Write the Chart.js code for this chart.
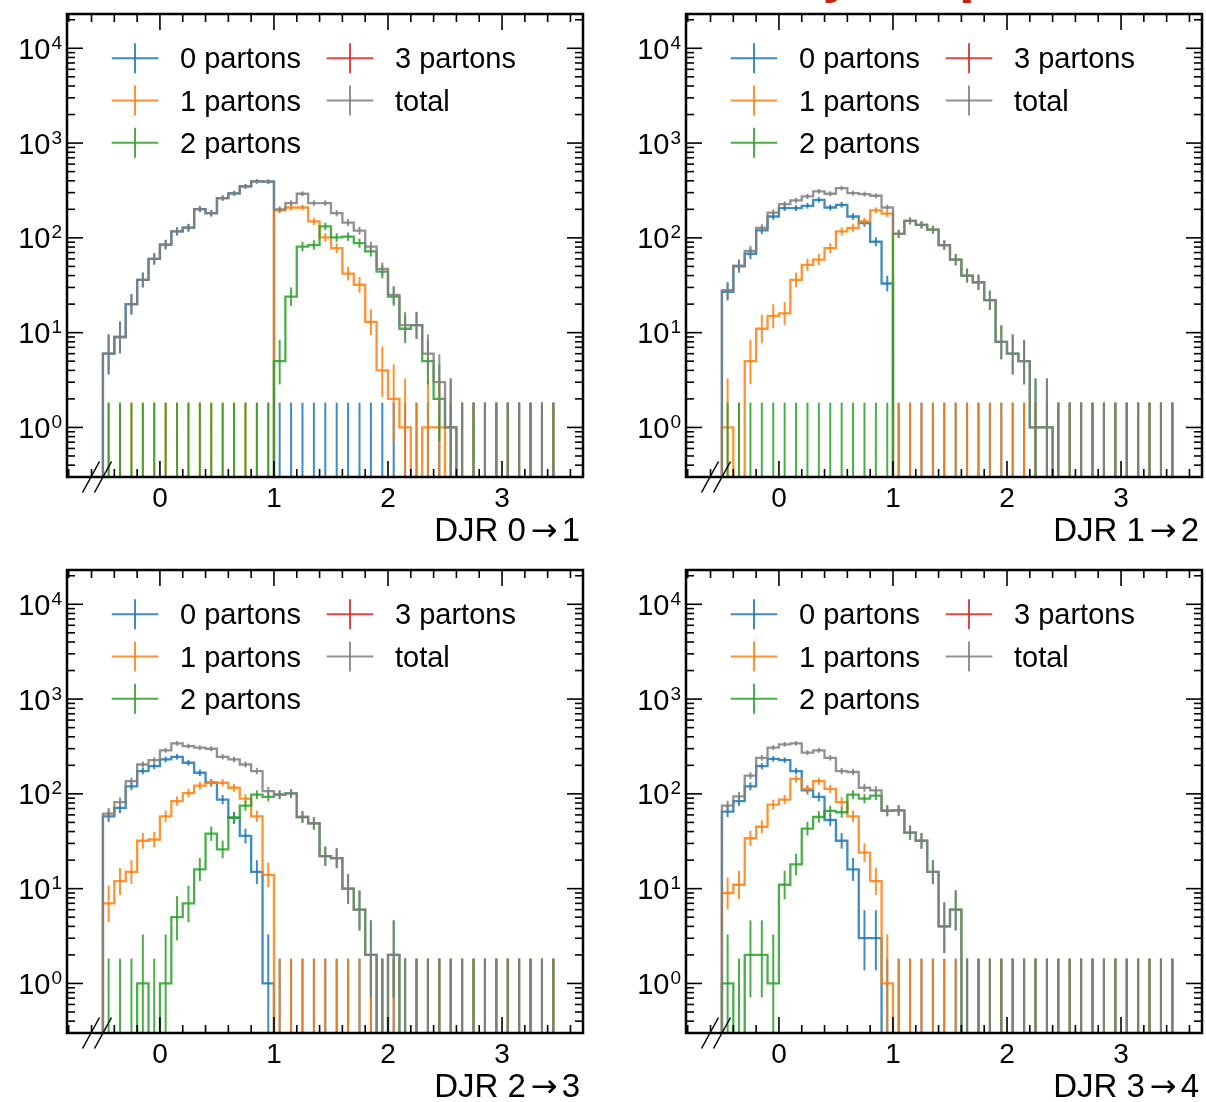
<!DOCTYPE html>
<html>
<head>
<meta charset="utf-8">
<script src="https://cdn.jsdelivr.net/npm/chart.js@4.4.1/dist/chart.umd.min.js"></script>
<style>
  body { margin: 0; background: #fff; width: 1206px; height: 1102px; overflow: hidden; position: relative; }
  .panel { position: absolute; width: 603px; height: 551px; }
  #suptitle {
    position: absolute; left: 738px; top: -58px; white-space: nowrap;
    font: bold 58px/58px "Liberation Sans", Arial, sans-serif; color: #c8200e;
  }
</style>
</head>
<body>
<div id="suptitle">W+jets, pT</div>
<div class="panel" style="left:0;top:0"><canvas id="djr01" width="603" height="551"></canvas></div>
<div class="panel" style="left:603px;top:0"><canvas id="djr12" width="603" height="551"></canvas></div>
<div class="panel" style="left:0;top:556px"><canvas id="djr23" width="603" height="551"></canvas></div>
<div class="panel" style="left:603px;top:556px"><canvas id="djr34" width="603" height="551"></canvas></div>
<script>
const FONT = '"Liberation Sans", Arial, sans-serif';
const ARROW_FONT = '"DejaVu Sans", sans-serif';

// bin edges, width 0.1
const binEdges = [
  -0.5, -0.4, -0.3, -0.2, -0.1, 0, 0.1, 0.2, 0.3, 0.4, 0.5, 0.6, 0.7, 0.8, 0.9,
  1.0, 1.1, 1.2, 1.3, 1.4, 1.5, 1.6, 1.7, 1.8, 1.9, 2.0, 2.1, 2.2, 2.3, 2.4,
  2.5, 2.6, 2.7, 2.8, 2.9, 3.0, 3.1, 3.2, 3.3, 3.4, 3.5,
];

const seriesLabels = ["0 partons", "1 partons", "2 partons", "3 partons", "total"];
const seriesColors = ["#1f77b4", "#ff7f0e", "#2ca02c", "#d62728", "#7f7f7f"];

const xMajorTicks = [0, 1, 2, 3];
const xTickLabels = ["0", "1", "2", "3"];
const xMinorTicks = [-0.8, -0.6, -0.4, -0.2, 0.2, 0.4, 0.6, 0.8, 1.2, 1.4, 1.6, 1.8,
  2.2, 2.4, 2.6, 2.8, 3.2, 3.4, 3.6];
const yMajorTicks = [1, 10, 100, 1000, 10000];
const yTickExponents = ["0", "1", "2", "3", "4"];

// ---- DJR 0->1 ----
const djr01Parton0 = [6, 9, 20, 36, 60, 85, 117, 128, 201, 182, 263, 295, 349, 394, 392,
  0, 0, 0, 0, 0, 0, 0, 0, 0, 0, 0, 0, 0, 0, 0, 0, 0, 0, 0, 0, 0, 0, 0, 0, 0];
const djr01Parton1 = [0, 0, 0, 0, 0, 0, 0, 0, 0, 0, 0, 0, 0, 0, 0,
  195, 209, 209, 149, 101, 78, 42, 32, 13, 4, 2, 1, 0, 1, 1,
  0, 0, 0, 0, 0, 0, 0, 0, 0, 0];
const djr01Parton2 = [0, 0, 0, 0, 0, 0, 0, 0, 0, 0, 0, 0, 0, 0, 0,
  5, 24, 81, 84, 132, 101, 103, 88, 72, 44, 24, 11, 12, 5, 2, 1,
  0, 0, 0, 0, 0, 0, 0, 0, 0];
const djr01Parton3 = [];
const djr01Total = [6, 9, 20, 36, 60, 85, 117, 128, 201, 182, 263, 295, 349, 394, 392,
  200, 233, 292, 233, 233, 182, 145, 119, 81, 47, 25, 12, 12, 6, 3, 1,
  0, 0, 0, 0, 0, 0, 0, 0, 0];

// ---- DJR 1->2 ----
const djr12Parton0 = [27, 50, 68, 120, 168, 206, 206, 218, 252, 209, 223, 168, 143, 91, 33,
  0, 0, 0, 0, 0, 0, 0, 0, 0, 0, 0, 0, 0, 0, 0, 0, 0, 0, 0, 0, 0, 0, 0, 0, 0];
const djr12Parton1 = [1, 0, 5, 11, 15, 16, 36, 52, 59, 78, 117, 127, 149, 195, 180,
  0, 0, 0, 0, 0, 0, 0, 0, 0, 0, 0, 0, 0, 0, 0, 0, 0, 0, 0, 0, 0, 0, 0, 0, 0];
const djr12Parton2 = [0, 0, 0, 0, 0, 0, 0, 0, 0, 0, 0, 0, 0, 0, 0,
  110, 151, 137, 122, 84, 59, 40, 34, 22, 8, 6, 5, 1, 1,
  0, 0, 0, 0, 0, 0, 0, 0, 0, 0, 0];
const djr12Parton3 = [];
const djr12Total = [28, 51, 73, 127, 185, 227, 248, 274, 309, 292, 335, 297, 290, 278, 209,
  110, 151, 137, 122, 84, 59, 40, 34, 22, 8, 6, 5, 1, 1,
  0, 0, 0, 0, 0, 0, 0, 0, 0, 0, 0];

// ---- DJR 2->3 ----
const djr23Parton0 = [58, 71, 120, 174, 196, 231, 246, 213, 167, 131, 87, 56, 36, 15, 1,
  0, 0, 0, 0, 0, 0, 0, 0, 0, 0, 0, 0, 0, 0, 0, 0, 0, 0, 0, 0, 0, 0, 0, 0, 0];
const djr23Parton1 = [7, 12, 15, 32, 33, 58, 84, 102, 122, 131, 131, 116, 89, 58, 14,
  0, 0, 0, 0, 0, 0, 0, 0, 0, 0, 0, 0, 0, 0, 0, 0, 0, 0, 0, 0, 0, 0, 0, 0, 0];
const djr23Parton2 = [0, 0, 0, 1, 0, 1, 5, 7, 16, 38, 26, 56, 75, 98, 93,
  98, 101, 57, 49, 22, 21, 10, 6, 2, 0, 2,
  0, 0, 0, 0, 0, 0, 0, 0, 0, 0, 0, 0, 0, 0];
const djr23Parton3 = [];
const djr23Total = [62, 82, 136, 204, 227, 288, 341, 319, 307, 299, 246, 231, 204, 174, 107,
  98, 101, 57, 49, 22, 21, 10, 6, 2, 0, 2,
  0, 0, 0, 0, 0, 0, 0, 0, 0, 0, 0, 0, 0, 0];

// ---- DJR 3->4 ----
const djr34Parton0 = [65, 84, 120, 196, 234, 227, 174, 109, 93, 53, 32, 16, 3, 3,
  0, 0, 0, 0, 0, 0, 0, 0, 0, 0, 0, 0, 0, 0, 0, 0, 0, 0, 0, 0, 0, 0, 0, 0, 0, 0];
const djr34Parton1 = [9, 11, 34, 45, 77, 87, 144, 113, 136, 113, 82, 58, 24, 12, 1,
  0, 0, 0, 0, 0, 0, 0, 0, 0, 0, 0, 0, 0, 0, 0, 0, 0, 0, 0, 0, 0, 0, 0, 0, 0];
const djr34Parton2 = [1, 0, 2, 2, 1, 11, 18, 43, 57, 66, 64, 98, 89, 96, 66, 67, 39, 32, 15, 4, 6,
  0, 0, 0, 0, 0, 0, 0, 0, 0, 0, 0, 0, 0, 0, 0, 0, 0, 0, 0];
const djr34Parton3 = [];
const djr34Total = [75, 94, 156, 240, 307, 333, 341, 272, 288, 240, 174, 170, 116, 109, 67, 67, 39, 32, 15, 4, 6,
  0, 0, 0, 0, 0, 0, 0, 0, 0, 0, 0, 0, 0, 0, 0, 0, 0, 0, 0];

const panels = [
  { id: "djr01", title: ["DJR 0", "\u2192", "1"], padLeft: 67, padRight: 20,
    series: [djr01Parton0, djr01Parton1, djr01Parton2, djr01Parton3, djr01Total] },
  { id: "djr12", title: ["DJR 1", "\u2192", "2"], padLeft: 83, padRight: 4,
    series: [djr12Parton0, djr12Parton1, djr12Parton2, djr12Parton3, djr12Total] },
  { id: "djr23", title: ["DJR 2", "\u2192", "3"], padLeft: 67, padRight: 20,
    series: [djr23Parton0, djr23Parton1, djr23Parton2, djr23Parton3, djr23Total] },
  { id: "djr34", title: ["DJR 3", "\u2192", "4"], padLeft: 83, padRight: 4,
    series: [djr34Parton0, djr34Parton1, djr34Parton2, djr34Parton3, djr34Total] },
];

const FLOOR = 0.01; // empty bins drawn below the axis

// Poisson (Garwood-like) interval, Wilson-Hilferty approximation
function poissonLow(n) {
  if (n <= 0) return 0;
  return n * Math.pow(1 - 1 / (9 * n) - 1 / (3 * Math.sqrt(n)), 3);
}

function poissonHigh(n) {
  const m = n + 1;
  return m * Math.pow(1 - 1 / (9 * m) + 1 / (3 * Math.sqrt(m)), 3);
}

function withAlpha(hex, a) {
  const v = parseInt(hex.slice(1), 16);
  return `rgba(${(v >> 16) & 255},${(v >> 8) & 255},${v & 255},${a})`;
}

function stepPoints(counts) {
  if (!counts.length) return [];
  const pts = [{ x: binEdges[0], y: FLOOR }];
  counts.forEach((n, i) => pts.push({ x: binEdges[i], y: n > 0 ? n : FLOOR }));
  pts.push({ x: binEdges[counts.length], y: FLOOR });
  return pts;
}

function line(ctx, x1, y1, x2, y2) {
  ctx.beginPath();
  ctx.moveTo(x1, y1);
  ctx.lineTo(x2, y2);
  ctx.stroke();
}

// error bars, drawn right after each histogram
const errorBarPlugin = {
  id: "errorBars",
  afterDatasetDraw(chart, args) {
    const ds = chart.data.datasets[args.index];
    if (!ds.counts || !ds.counts.length) return;
    const { ctx, chartArea: a, scales: { x, y } } = chart;
    ctx.save();
    ctx.beginPath();
    ctx.rect(a.left, a.top, a.right - a.left, a.bottom - a.top);
    ctx.clip();
    ctx.strokeStyle = ds.borderColor;
    ctx.lineWidth = 2;
    ds.counts.forEach((n, i) => {
      const xc = x.getPixelForValue((binEdges[i] + binEdges[i + 1]) / 2);
      const top = y.getPixelForValue(poissonHigh(n));
      const lowVal = poissonLow(n);
      const bottom = lowVal > 0 ? y.getPixelForValue(lowVal) : a.bottom + 5;
      line(ctx, xc, top, xc, bottom);
    });
    ctx.restore();
  },
};

// frame, inward ticks, labels, legend
const framePlugin = {
  id: "djrFrame",
  afterDraw(chart, args, opts) {
    const { ctx, chartArea: a, scales: { x, y } } = chart;
    ctx.save();
    ctx.strokeStyle = "#000";
    ctx.fillStyle = "#000";
    ctx.lineWidth = 1.6;

    for (let d = -1; d <= 4; d++) {
      for (let m = 1; m <= 9; m++) {
        const v = m * Math.pow(10, d);
        const py = y.getPixelForValue(v);
        if (py < a.top + 1 || py > a.bottom - 1) continue;
        const len = m === 1 ? 16 : 8;
        line(ctx, a.left, py, a.left + len, py);
        line(ctx, a.right, py, a.right - len, py);
      }
    }
    xMinorTicks.forEach((v) => {
      const px = x.getPixelForValue(v);
      if (px < a.left + 1 || px > a.right - 1) return;
      line(ctx, px, a.bottom, px, a.bottom - 8);
      line(ctx, px, a.top, px, a.top + 8);
    });
    xMajorTicks.forEach((v) => {
      const px = x.getPixelForValue(v);
      line(ctx, px, a.bottom, px, a.bottom - 16);
      line(ctx, px, a.top, px, a.top + 16);
    });

    ctx.lineWidth = 2.5;
    ctx.strokeRect(a.left, a.top, a.right - a.left, a.bottom - a.top);

    // axis break marks
    ctx.lineWidth = 1.5;
    [24, 36].forEach((dx) => {
      line(ctx, a.left + dx - 8.5, a.bottom + 15.5, a.left + dx + 8.5, a.bottom - 15.5);
    });

    // x tick labels
    ctx.font = `28px ${FONT}`;
    ctx.textAlign = "center";
    ctx.textBaseline = "alphabetic";
    xMajorTicks.forEach((v, k) => {
      ctx.fillText(xTickLabels[k], x.getPixelForValue(v), a.bottom + 30);
    });

    // y tick labels 10^n
    ctx.textAlign = "right";
    yMajorTicks.forEach((v, k) => {
      const py = y.getPixelForValue(v);
      ctx.font = `19px ${FONT}`;
      const sw = ctx.measureText(yTickExponents[k]).width;
      ctx.fillText(yTickExponents[k], a.left - 5, py + 0.5);
      ctx.font = `29px ${FONT}`;
      ctx.fillText("10", a.left - 6 - sw, py + 10.5);
    });

    // x title, right aligned, arrow from a wider font with math spacing
    const [head, arrow, tail] = opts.title;
    let tx = a.right - 3;
    const ty = a.bottom + 64;
    ctx.font = `33px ${FONT}`;
    ctx.fillText(tail, tx, ty);
    tx -= ctx.measureText(tail).width + 4;
    ctx.font = `32px ${ARROW_FONT}`;
    ctx.fillText(arrow, tx, ty);
    tx -= ctx.measureText(arrow).width + 5;
    ctx.font = `33px ${FONT}`;
    ctx.fillText(head, tx, ty);

    // legend
    ctx.textAlign = "left";
    ctx.font = `29px ${FONT}`;
    chart.data.datasets.forEach((ds, k) => {
      const col = k < 3 ? 0 : 1;
      const row = k < 3 ? k : k - 3;
      const hx = a.left + (col === 0 ? 44.7 : 259.7);
      const cy = a.top + 44.3 + row * 42.2;
      ctx.strokeStyle = ds.borderColor;
      ctx.lineWidth = 2;
      line(ctx, hx, cy, hx + 46.6, cy);
      line(ctx, hx + 23.3, cy - 15, hx + 23.3, cy + 15);
      ctx.fillStyle = "#000";
      ctx.fillText(ds.label, hx + 68.3, cy + 10);
    });

    ctx.restore();
  },
};

function renderPanel(panel) {
  const ctx = document.getElementById(panel.id);

  const datasets = panel.series.map((counts, k) => ({
    label: seriesLabels[k],
    data: stepPoints(counts),
    counts,
    borderColor: withAlpha(seriesColors[k], 0.85),
    borderWidth: 2.3,
    pointRadius: 0,
    stepped: true,
    fill: false,
    tension: 0,
    order: seriesLabels.length - 1 - k,
  }));

  new Chart(ctx, {
    type: "line",
    data: { datasets },
    plugins: [errorBarPlugin, framePlugin],
    options: {
      responsive: false,
      animation: false,
      events: [],
      layout: {
        padding: { left: panel.padLeft, right: panel.padRight, top: 14, bottom: 74 },
      },
      scales: {
        x: { type: "linear", min: -0.815, max: 3.71, display: false },
        y: { type: "logarithmic", min: 0.3, max: 23000, display: false },
      },
      plugins: {
        legend: { display: false },
        tooltip: { enabled: false },
        djrFrame: { title: panel.title },
      },
    },
  });
}

panels.forEach(renderPanel);
</script>
</body>
</html>
